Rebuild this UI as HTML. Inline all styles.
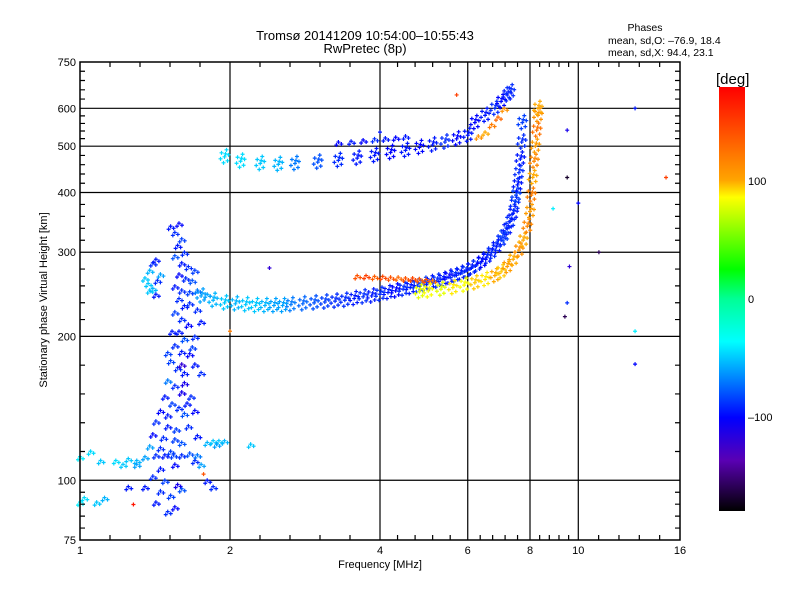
<!DOCTYPE html>
<html><head><meta charset="utf-8"><style>
body{margin:0;background:#fff;}
svg{display:block;font-family:"Liberation Sans","DejaVu Sans",sans-serif;}
</style></head><body>
<svg id="chart" width="800" height="600" viewBox="0 0 800 600">
<defs>
<linearGradient id="cb" x1="0" y1="0" x2="0" y2="1">
<stop offset="0" stop-color="#ff0000"/><stop offset="0.22" stop-color="#ffa500"/><stop offset="0.26" stop-color="#ffff00"/>
<stop offset="0.43" stop-color="#00ff00"/><stop offset="0.5" stop-color="#00ff96"/><stop offset="0.6" stop-color="#00ffff"/>
<stop offset="0.69" stop-color="#0080ff"/><stop offset="0.78" stop-color="#0000ff"/><stop offset="0.88" stop-color="#5a00b4"/>
<stop offset="1" stop-color="#000000"/></linearGradient>
</defs>
<text x="365" y="40" font-size="13" text-anchor="middle">Tromsø 20141209 10:54:00–10:55:43</text>
<text x="365" y="53" font-size="13" text-anchor="middle">RwPretec (8p)</text>
<g font-size="10.5">
<text x="645" y="31" text-anchor="middle">Phases</text>
<text x="608" y="44">mean, sd,O: –76.9, 18.4</text>
<text x="608" y="56">mean, sd,X:  94.4, 23.1</text>
</g>
<g id="grid"></g>
<g id="marks"></g>
<rect x="80" y="62" width="600" height="478" fill="none" stroke="#000" stroke-width="1.5"/>
<g id="ticks"></g>
<text x="380" y="568" font-size="11" text-anchor="middle">Frequency [MHz]</text>
<text transform="translate(47,300) rotate(-90)" font-size="11" text-anchor="middle">Stationary phase Virtual Height [km]</text>
<rect x="719" y="87" width="26" height="424" fill="url(#cb)"/>
<text x="716" y="84" font-size="15">[deg]</text>
<g id="cbticks" font-size="11"></g>
</svg>
<script>
const xTicks=[1,2,4,6,8,10,16];
const yTicks=[75,100,200,300,400,500,600,750];
const cbTicks=[100,0,-100];
// O-mode lower trace
const oFreq=[1.75,1.85,1.95,2.05,2.15,2.25,2.35,2.45,2.55,2.65,2.8,2.95,3.1,3.25,3.4,3.55,3.7,3.85,4.0,4.15,4.3,4.45,4.6,4.75,4.9,5.05,5.2,5.35,5.5,5.65,5.8,5.95,6.1,6.25,6.4,6.55,6.7,6.85,7.0,7.1,7.2,7.3,7.4,7.45,7.5,7.55,7.6,7.65,7.7,7.72];
const oHeight=[243,238,235,234,233,232,232,232,232,233,234,235,236,237,238,240,242,243,245,247,249,251,253,255,257,259,261,263,266,268,271,274,278,282,287,293,300,308,318,326,336,348,362,378,395,415,440,470,510,560];
const oPhase=[-60,-55,-50,-55,-50,-50,-55,-60,-60,-70,-75,-80,-85,-90,-90,-95,-90,-95,-90,-95,-100,-90,-95,-90,-85,-95,-90,-95,-100,-90,-95,-90,-95,-90,-100,-95,-90,-95,-90,-85,-95,-90,-95,-90,-85,-95,-90,-95,-90,-85];
// X-mode traces
const xoFreq=[3.6,3.75,3.9,4.05,4.2,4.35,4.5,4.65,4.8,4.95,5.1];
const xoHeight=[268,268,267,267,266,266,265,265,264,263,262];
const xoPhase=[140,150,135,145,140,130,140,145,135,140,120];
const xyFreq=[4.8,5.0,5.3,5.6,5.9,6.2,6.5,6.8,7.0,7.2,7.4,7.6,7.75,7.9,8.0,8.05,8.1,8.15,8.2,8.25,8.3,8.3];
const xyHeight=[248,249,251,253,256,259,263,268,273,280,290,303,318,340,365,395,430,465,500,540,580,600];
const xyPhase=[80,85,80,90,85,95,90,100,95,105,100,110,100,115,105,120,100,115,105,125,110,100];
// upper (second hop) traces
const uFreq=[1.95,2.1,2.3,2.5,2.7,3.0,3.3,3.6,3.9,4.2,4.5,4.8,5.1,5.4,5.7,6.0,6.2,6.5,6.8,7.0,7.2,7.3];
const uHeight=[475,465,460,458,460,463,467,472,478,485,490,497,503,510,518,527,560,580,600,620,640,650];
const uPhase=[-45,-45,-50,-55,-70,-80,-90,-95,-95,-100,-95,-100,-95,-90,-100,-95,-100,-95,-90,-100,-95,-90];
const u2Freq=[3.3,3.5,3.7,3.9,4.1,4.3,4.5,6.3,6.5,6.7,6.9,7.1];
const u2Height=[510,512,515,518,520,522,525,525,535,555,575,600];
const u2Phase=[-100,-95,-100,-90,-95,-100,-95,110,100,120,130,110];
// spread-F / Es region near 1.5 MHz
const sFreq=[1.52,1.55,1.58,1.6,1.57,1.62,1.55,1.6,1.65,1.7,1.58,1.63,1.68,1.55,1.6,1.66,1.72,1.8,1.58,1.62,1.55,1.6,1.65,1.58,1.62,1.55,1.6,1.66,1.52,1.57,1.62,1.5,1.55,1.6,1.48,1.53,1.58,1.45,1.5,1.62,1.42,1.5,1.56,1.65,1.4,1.47,1.55,1.6,1.72,1.38,1.45,1.52,1.42,1.48,1.54,1.6,1.66,1.72,1.35,1.3,1.25,1.45,1.55,1.4,1.48,1.57,1.35,1.45,1.52,1.6,1.42,1.55,1.5,1.7,1.75,1.8,1.85,1.9,1.95,1.88,1.8,1.85,2.2,1.7,1.75,1.68,1.7,1.75,1.72,1.05,1.1,1.0,1.18,1.22,1.02,1.08,1.12,1.0,1.25,1.3,1.35,1.38,1.4,1.42,1.37,1.4,1.43,1.45,1.38,1.42,1.62,1.67,1.64,1.7,1.6,1.53,1.5,1.66];
const sHeight=[340,330,345,320,310,300,295,285,280,275,270,265,262,255,250,248,250,245,240,232,225,218,212,205,198,192,186,184,178,172,168,162,158,153,150,145,142,140,137,138,133,130,128,130,125,123,122,120,124,118,117,115,113,113,113,113,114,113,112,110,111,106,108,102,100,98,97,95,93,96,90,88,86,110,108,120,121,121,121,119,100,97,119,175,168,190,200,215,228,115,110,112,110,108,92,90,92,90,97,108,265,275,285,290,258,252,262,270,250,245,160,150,145,140,175,205,185,235];
const sPhase=[-95,-90,-100,-85,-95,-90,-80,-95,-90,-85,-100,-90,-80,-95,-90,-85,-70,-60,-90,-95,-85,-90,-100,-95,-80,-90,-95,-100,-85,-90,-95,-70,-90,-110,-95,-85,-90,-100,-95,-80,-90,-95,-85,-90,-100,-90,-85,-80,-95,-60,-90,-85,-90,-95,-85,-90,-80,-70,-60,-55,-50,-95,-100,-90,-85,-110,-95,-90,-85,-80,-95,-100,-90,-90,-60,-55,-50,-50,-55,-60,-95,-90,-50,-95,-90,-85,-90,-95,-90,-45,-50,-40,-45,-50,-45,-50,-55,-40,-95,-60,-50,-55,-90,-95,-50,-55,-90,-60,-50,-95,-110,-90,-95,-100,-120,-95,-85,-90];
// isolated outliers
const pFreq=[1.28,1.77,2.0,5.7,9.5,9.6,10.0,9.5,13.0,13.0,13.0,15.0,11.0,9.5,9.4,4.0,2.4,8.9];
const pHeight=[89,103,205,640,540,280,380,235,600,205,175,430,300,430,220,535,278,370];
const pPhase=[170,140,120,150,-110,-120,-100,-90,-95,-40,-100,150,-160,-170,-160,-95,-120,-40];

const X0=80,X1=680,Y0=540,Y1=62;
function xs(f){return X0+(X1-X0)*Math.log(f)/Math.log(16);}
function ys(h){return Y0-(Y0-Y1)*Math.log10(h/75);}
const stops=[[0,255,0,0],[0.22,255,165,0],[0.26,255,255,0],[0.43,0,255,0],[0.5,0,255,150],[0.6,0,255,255],[0.69,0,128,255],[0.78,0,0,255],[0.88,90,0,180],[1,0,0,0]];
function color(p){let t=(180-p)/360;t=Math.max(0,Math.min(1,t));
 for(let i=1;i<stops.length;i++){if(t<=stops[i][0]){const a=stops[i-1],b=stops[i],u=(t-a[0])/(b[0]-a[0]);
 return `rgb(${Math.round(a[1]+u*(b[1]-a[1]))},${Math.round(a[2]+u*(b[2]-a[2]))},${Math.round(a[3]+u*(b[3]-a[3]))})`;}}return '#000';}
const NS='http://www.w3.org/2000/svg';
function el(tag,attrs,parent){const e=document.createElementNS(NS,tag);for(const k in attrs)e.setAttribute(k,attrs[k]);parent.appendChild(e);return e;}
const grid=document.getElementById('grid'),ticks=document.getElementById('ticks'),marks=document.getElementById('marks'),cbt=document.getElementById('cbticks');
xTicks.forEach(v=>{const x=xs(v);
 if(v>1&&v<16){const g=el('line',{x1:x,x2:x,y1:Y1,y2:Y0,stroke:'#000','stroke-width':1.2},grid);
 
 }
 const t=el('text',{x:x,y:554,'font-size':11,'text-anchor':'middle'},ticks);t.textContent=v;
 
 });
yTicks.forEach(v=>{const y=ys(v);
 if(v>75&&v<750){const g=el('line',{x1:X0,x2:X1,y1:y,y2:y,stroke:'#000','stroke-width':1.2},grid);
 
 }
 const t=el('text',{x:76,y:y+4,'font-size':11,'text-anchor':'end'},ticks);t.textContent=v;
 
 });
let d='';
for(let i=0;i<xTicks.length-1;i++){const a=xs(xTicks[i]),b=xs(xTicks[i+1]);for(let k=1;k<5;k++){const x=a+(b-a)*k/5;d+=`M${x} ${Y0}v-5M${x} ${Y1}v5`;}}
for(let i=0;i<yTicks.length-1;i++){const a=ys(yTicks[i]),b=ys(yTicks[i+1]);for(let k=1;k<5;k++){const y=a+(b-a)*k/5;d+=`M${X0} ${y}h5M${X1} ${y}h-5`;}}
const mt=el('path',{d:d,stroke:'#000','stroke-width':1.2,fill:'none'},ticks);


cbTicks.forEach(v=>{const y=87+(180-v)/360*424;const t=el('text',{x:748,y:y+4},cbt);t.textContent=v<0?'–'+(-v):v;
 
 });
function plus(x,y,c,name){const m=el('path',{d:`M${x-2} ${y}h4M${x} ${y-2}v4`,stroke:c,'stroke-width':1.2},marks);
 
 }
function series(F,H,P,name,offs){for(let i=0;i<F.length;i++){const x=xs(F[i]),y=ys(H[i]),c=color(P[i]);offs.forEach(o=>plus(x+o[0],y+o[1],c,name));}}
const band=[[-3,-4],[0,0],[3,4],[-1,6],[2,-7],[-4,2],[4,-2],[1,-3]];
const thin=[[0,0],[3,2],[-2,3]];
series(oFreq,oHeight,oPhase,'o-trace-point',band);
series(xoFreq,xoHeight,xoPhase,'x-orange-point',thin);
series(xyFreq,xyHeight,xyPhase,'x-trace-point',band);
series(uFreq,uHeight,uPhase,'upper-trace-point',band);
series(u2Freq,u2Height,u2Phase,'upper-branch-point',thin);
series(sFreq,sHeight,sPhase,'spread-point',thin);
series(pFreq,pHeight,pPhase,'outlier-point',[[0,0]]);
</script>
</body></html>
